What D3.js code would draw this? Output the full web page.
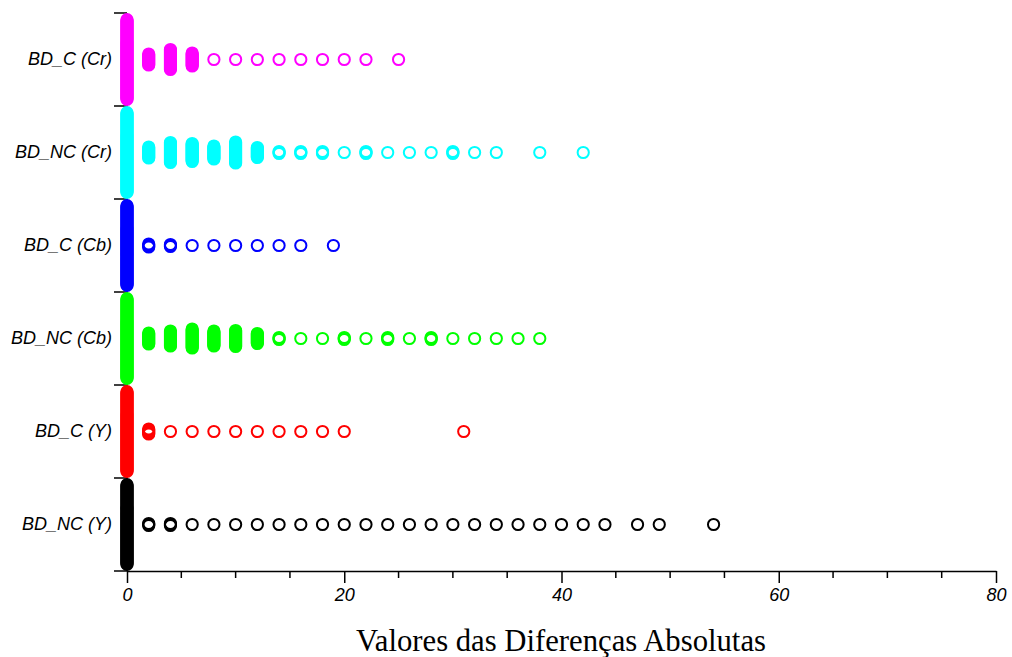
<!DOCTYPE html>
<html>
<head>
<meta charset="utf-8">
<script src="https://cdn.jsdelivr.net/npm/d3@7"></script>
<style>
  html, body { margin: 0; padding: 0; background: #fff; }
  svg { display: block; }
</style>
</head>
<body>
<svg id="chart" width="1012" height="657"></svg>
<script>
// Absolute-difference values per database/channel, with how many blocks share each value.
const categories = ["BD_C (Cr)", "BD_NC (Cr)", "BD_C (Cb)", "BD_NC (Cb)", "BD_C (Y)", "BD_NC (Y)"];
const colors = ["#ff00ff", "#00ffff", "#0000ff", "#00ff00", "#ff0000", "#000000"];

const valuesCrC  = [0, 2, 4, 6, 8, 10, 12, 14, 16, 18, 20, 22, 25];
const countsCrC  = [1800, 12, 21, 14, 1, 1, 1, 1, 1, 1, 1, 1, 1];

const valuesCrNC = [0, 2, 4, 6, 8, 10, 12, 14, 16, 18, 20, 22, 24, 26, 28, 30, 32, 34, 38, 42];
const countsCrNC = [2500, 12, 21, 19, 14, 22, 11, 3, 3, 3, 1, 3, 1, 1, 1, 3, 1, 1, 1, 1];

const valuesCbC  = [0, 2, 4, 6, 8, 10, 12, 14, 16, 19];
const countsCbC  = [1900, 4, 3, 1, 1, 1, 1, 1, 1, 1];

const valuesCbNC = [0, 2, 4, 6, 8, 10, 12, 14, 16, 18, 20, 22, 24, 26, 28, 30, 32, 34, 36, 38];
const countsCbNC = [2600, 12, 16, 20, 16, 17, 11, 3, 1, 1, 3, 1, 3, 1, 3, 1, 1, 1, 1, 1];

const valuesYC   = [0, 2, 4, 6, 8, 10, 12, 14, 16, 18, 20, 31];
const countsYC   = [1700, 6, 1, 1, 1, 1, 1, 1, 1, 1, 1, 1];

const valuesYNC  = [0, 2, 4, 6, 8, 10, 12, 14, 16, 18, 20, 22, 24, 26, 28, 30, 32, 34, 36, 38, 40, 42, 44, 47, 49, 54];
const countsYNC  = [3000, 3, 3, 1, 1, 1, 1, 1, 1, 1, 1, 1, 1, 1, 1, 1, 1, 1, 1, 1, 1, 1, 1, 1, 1, 1];

const xTicksMajor = [0, 20, 40, 60, 80];
const xTicksMinor = d3.range(0, 81, 5);
const xTitle = "Valores das Diferenças Absolutas";

const seriesValues = [valuesCrC, valuesCrNC, valuesCbC, valuesCbNC, valuesYC, valuesYNC];
const seriesCounts = [countsCrC, countsCrNC, countsCbC, countsCbNC, countsYC, countsYNC];

const plot = { left: 127, right: 996, top: 13, bottom: 571 };
const r = 5.6, sw = 2;

const svg = d3.select("#chart");

const x = d3.scaleLinear().domain([0, 80]).range([plot.left, plot.right]);
const y = d3.scaleBand().domain(categories).range([plot.top, plot.bottom]).padding(0);

// vertical spread of a stack of identical values: one pixel per extra point, limited to the row
const maxSpread = y.bandwidth() - 2 * (r + sw / 2);
const spread = d3.scaleLinear().domain([1, 1 + maxSpread]).range([0, maxSpread]).clamp(true);

// y axis line (sits underneath the stacks)
svg.append("line")
  .attr("x1", plot.left).attr("x2", plot.left)
  .attr("y1", plot.top).attr("y2", plot.bottom)
  .attr("stroke", "#000").attr("stroke-width", 1.5);

// row boundary ticks on the y axis
const boundaries = categories.map(c => y(c)).concat([plot.bottom]);
svg.append("g").selectAll("line").data(boundaries).join("line")
  .attr("x1", plot.left - 13).attr("x2", plot.left)
  .attr("y1", d => d).attr("y2", d => d)
  .attr("stroke", "#000").attr("stroke-width", 1.5);

// category labels
const yAxis = svg.append("g")
  .attr("transform", `translate(${plot.left},0)`)
  .call(d3.axisLeft(y).tickSize(0).tickPadding(15));
yAxis.select(".domain").remove();
yAxis.selectAll("text")
  .attr("font-family", "'Liberation Sans', Arial, sans-serif")
  .attr("font-style", "italic")
  .attr("font-size", 18)
  .attr("fill", "#000");

// x axis: major ticks with labels, minor ticks every 5
const xAxis = svg.append("g")
  .attr("transform", `translate(0,${plot.bottom})`)
  .call(d3.axisBottom(x).tickValues(xTicksMajor).tickSize(12).tickPadding(5).tickSizeOuter(0));
xAxis.select(".domain").attr("stroke-width", 1.5);
xAxis.selectAll(".tick line").attr("stroke-width", 1.5);
xAxis.selectAll("text")
  .attr("font-family", "'Liberation Sans', Arial, sans-serif")
  .attr("font-style", "italic")
  .attr("font-size", 18)
  .attr("fill", "#000");

svg.append("g").selectAll("line")
  .data(xTicksMinor.filter(v => !xTicksMajor.includes(v)))
  .join("line")
  .attr("x1", d => x(d)).attr("x2", d => x(d))
  .attr("y1", plot.bottom).attr("y2", plot.bottom + 7)
  .attr("stroke", "#000").attr("stroke-width", 1.5);

// stacked open circles: one ring per point, spread vertically around the row centre
categories.forEach((cat, si) => {
  const cy = y(cat) + y.bandwidth() / 2;
  const vals = seriesValues[si], cnts = seriesCounts[si];
  const pts = [];
  vals.forEach((v, i) => {
    const n = cnts[i];
    const s = spread(n);
    const k = Math.min(n, Math.round(s) + 1);
    for (let j = 0; j < k; j++) {
      const off = k === 1 ? 0 : (j / (k - 1) - 0.5) * s;
      pts.push({ v, off });
    }
  });
  svg.append("g").selectAll("circle").data(pts).join("circle")
    .attr("cx", d => x(d.v))
    .attr("cy", d => cy + d.off)
    .attr("r", r)
    .attr("fill", "none")
    .attr("stroke", colors[si])
    .attr("stroke-width", sw);
});

// axis title
svg.append("text")
  .attr("x", 561)
  .attr("y", 651)
  .attr("text-anchor", "middle")
  .attr("font-family", "'Liberation Serif', 'Times New Roman', serif")
  .attr("font-size", 30.7)
  .attr("fill", "#000")
  .text(xTitle);
</script>
</body>
</html>
